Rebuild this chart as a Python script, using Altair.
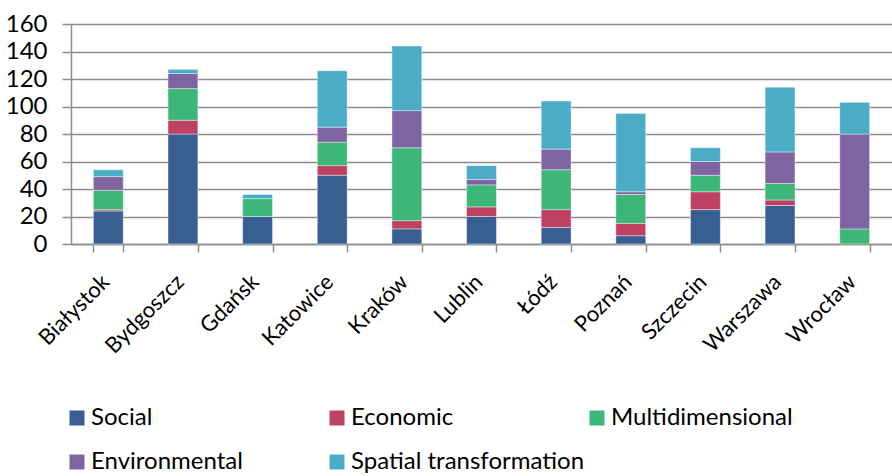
import altair as alt
import pandas as pd

cities = ["Białystok", "Bydgoszcz", "Gdańsk", "Katowice", "Kraków", "Lublin",
          "Łódź", "Poznań", "Szczecin", "Warszawa", "Wrocław"]
series = ["Social", "Economic", "Multidimensional", "Environmental", "Spatial transformation"]
colors = ["#375f92", "#be4163", "#3db778", "#8064a2", "#4bacc6"]

social = [24, 80, 20, 50, 11, 20, 12, 6, 25, 28, 0]
economic = [1, 10, 0, 7, 6, 7, 13, 9, 13, 4, 0]
multidimensional = [14, 23, 13, 17, 53, 16, 29, 21, 12, 12, 11]
environmental = [10, 11, 0, 11, 27, 4, 15, 2, 10, 23, 69]
spatial = [5, 3, 3, 41, 47, 10, 35, 57, 10, 47, 23]

values = [social, economic, multidimensional, environmental, spatial]
rows = []
for si, (name, vals) in enumerate(zip(series, values)):
    for c, v in zip(cities, vals):
        if v > 0:
            rows.append({"city": c, "series": name, "value": v, "order": si})
df = pd.DataFrame(rows)

FONT = "Lato"
FS = 24

chart = alt.Chart(df).mark_bar(
    stroke="white", strokeWidth=0.8, strokeOpacity=0.5
).encode(
    x=alt.X("city:N", sort=cities, title=None,
            scale=alt.Scale(paddingInner=0.6, paddingOuter=0.3),
            axis=alt.Axis(labelAngle=-45, labelAlign="right", labelBaseline="middle",
                          labelFontSize=22, labelFont=FONT, labelColor="#000000",
                          labelPadding=26, labelOffset=-3, tickBand="extent", tickSize=8,
                          tickColor="#8c8c8c", tickWidth=1.5,
                          domainColor="#8c8c8c", domainWidth=1.5, grid=False)),
    y=alt.Y("value:Q", stack="zero", title=None,
            scale=alt.Scale(domain=[0, 160], nice=False),
            axis=alt.Axis(values=list(range(0, 161, 20)), labelFontSize=FS, labelFont=FONT,
                          labelColor="#000000", labelPadding=15, tickSize=9,
                          tickColor="#8c8c8c", tickWidth=1.5, gridColor="#8c8c8c",
                          gridWidth=1.5, domainColor="#8c8c8c", domainWidth=1.5)),
    color=alt.Color("series:N", sort=series,
                    scale=alt.Scale(domain=series, range=colors),
                    legend=alt.Legend(title=None, orient="none", legendX=-6, legendY=382,
                                      direction="horizontal",
                                      columns=3, gridAlign="all", columnPadding=-2,
                                      rowPadding=20, symbolType="square", symbolSize=225,
                                      symbolStrokeWidth=0, labelFontSize=FS, labelFont=FONT,
                                      labelColor="#000000", labelLimit=400, labelOffset=2)),
    order=alt.Order("order:Q"),
).properties(
    width=821, height=220,
    autosize=alt.AutoSizeParams(type="none"),
    padding={"left": 71, "top": 24, "right": 0, "bottom": 232},
).configure_view(stroke=None).configure(background="white")

chart.save("out.html", embed_options={"renderer": "svg", "actions": False})
